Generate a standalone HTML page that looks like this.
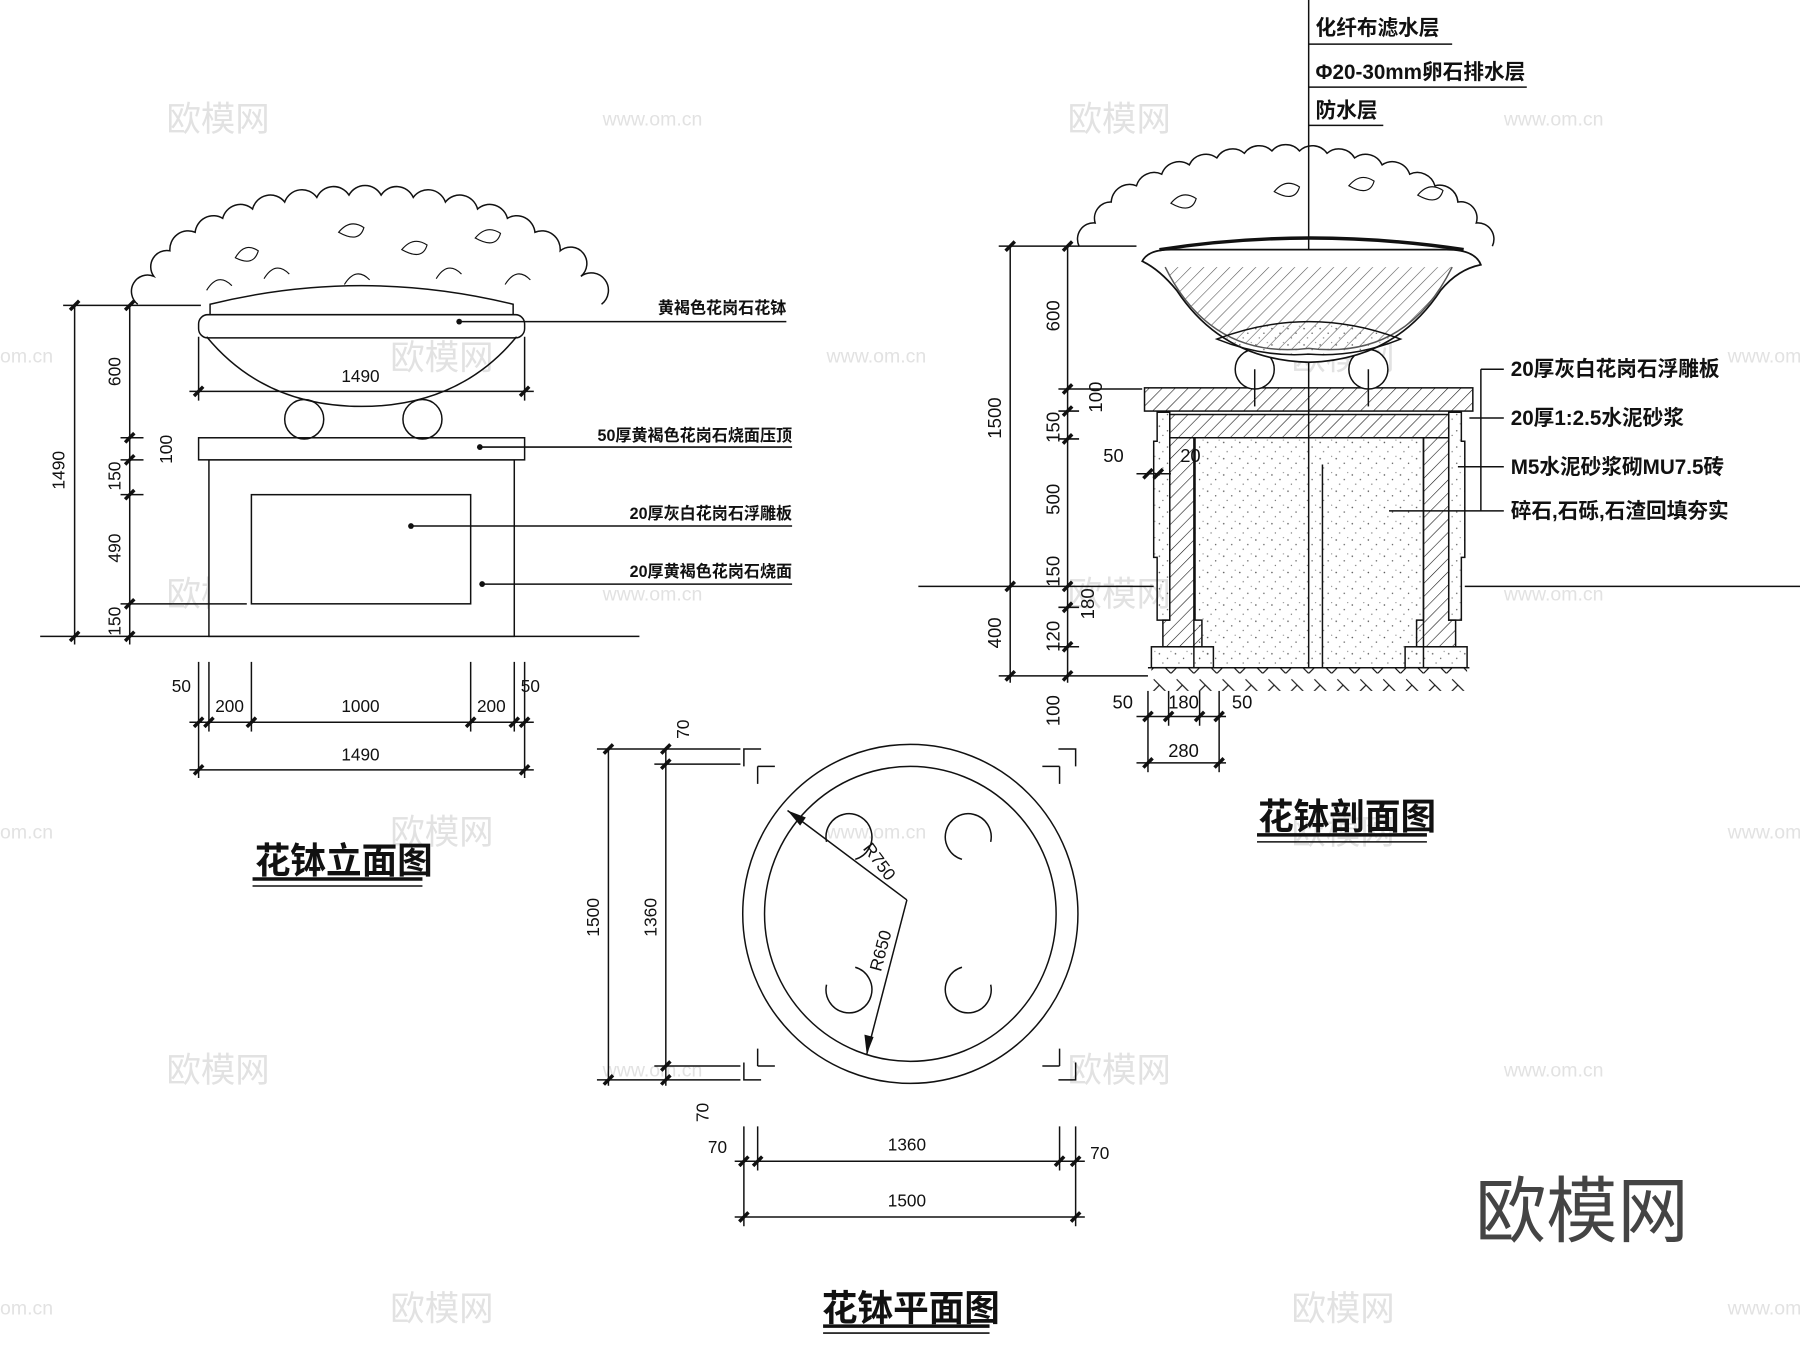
<!DOCTYPE html>
<html><head><meta charset="utf-8">
<style>
html,body{margin:0;padding:0;background:#fff;}
svg{display:block;}
text{font-family:"Liberation Sans","Noto Sans CJK SC",sans-serif;fill:#111;}
.cn{font-family:"Liberation Sans","Noto Sans CJK SC",sans-serif;font-weight:bold;}
</style></head><body>
<svg width="1800" height="1347" viewBox="0 0 1568 1160" preserveAspectRatio="none" xmlns="http://www.w3.org/2000/svg">
<defs>
<pattern id="hat" width="8" height="8" patternUnits="userSpaceOnUse" patternTransform="rotate(45)"><line x1="0" y1="0" x2="0" y2="8" stroke="#111" stroke-width="1"/></pattern>
<pattern id="dots" width="14" height="14" patternUnits="userSpaceOnUse"><circle cx="2" cy="3" r="0.7" fill="#555"/><circle cx="9" cy="7" r="0.6" fill="#555"/><circle cx="5" cy="11" r="0.6" fill="#777"/><circle cx="12" cy="1" r="0.5" fill="#777"/></pattern>
<pattern id="earth" width="20" height="20" patternUnits="userSpaceOnUse"><path d="M0,20 L10,10 L20,20 M5,5 L10,10" stroke="#111" fill="none" stroke-width="1"/></pattern>
</defs>
<rect width="1568" height="1160" fill="#fff"/>

<g font-size="30">
<text x="145" y="113" style="fill:#e2e2e2">欧模网</text><text x="930" y="113" style="fill:#e2e2e2">欧模网</text>
<text x="340" y="318" style="fill:#e2e2e2">欧模网</text><text x="1125" y="318" style="fill:#e2e2e2">欧模网</text>
<text x="145" y="522" style="fill:#e2e2e2">欧模网</text><text x="930" y="522" style="fill:#e2e2e2">欧模网</text>
<text x="340" y="727" style="fill:#e2e2e2">欧模网</text><text x="1125" y="727" style="fill:#e2e2e2">欧模网</text>
<text x="145" y="932" style="fill:#e2e2e2">欧模网</text><text x="930" y="932" style="fill:#e2e2e2">欧模网</text>
<text x="340" y="1137" style="fill:#e2e2e2">欧模网</text><text x="1125" y="1137" style="fill:#e2e2e2">欧模网</text>
</g>
<g font-size="17">
<text x="525" y="108" style="fill:#e2e2e2">www.om.cn</text><text x="1310" y="108" style="fill:#e2e2e2">www.om.cn</text>
<text x="720" y="312" style="fill:#e2e2e2">www.om.cn</text><text x="0" y="312" style="fill:#e2e2e2">om.cn</text><text x="1505" y="312" style="fill:#e2e2e2">www.om</text>
<text x="525" y="517" style="fill:#e2e2e2">www.om.cn</text><text x="1310" y="517" style="fill:#e2e2e2">www.om.cn</text>
<text x="720" y="722" style="fill:#e2e2e2">www.om.cn</text><text x="0" y="722" style="fill:#e2e2e2">om.cn</text><text x="1505" y="722" style="fill:#e2e2e2">www.om</text>
<text x="525" y="927" style="fill:#e2e2e2">www.om.cn</text><text x="1310" y="927" style="fill:#e2e2e2">www.om.cn</text>
<text x="0" y="1132" style="fill:#e2e2e2">om.cn</text><text x="1505" y="1132" style="fill:#e2e2e2">www.om</text>
</g>
<text x="1285" y="1065" font-size="62" style="fill:#444">欧模网</text>

<g stroke="#111" fill="none" stroke-width="1.3">
<line x1="35" y1="548" x2="557" y2="548"/>
<rect x="182" y="396" width="266" height="152" fill="#fff"/>
<rect x="173" y="377" width="284" height="19" fill="#fff"/>
<rect x="219" y="426" width="191" height="94"/>
<circle cx="265" cy="361" r="17"/><circle cx="368" cy="361" r="17"/>
<path d="M180,290 Q230,350 315,350 Q400,350 450,290"/>
<rect x="173" y="271" width="284" height="20" rx="8"/>
<path d="M183,271 L183,262 Q315,230 447,262 L447,271"/>
<path d="M120,262 a14,14 0 0 1 14,-24 a14,14 0 0 1 14,-22 a16,16 0 0 1 22,-16 a16,16 0 0 1 24,-12 a16,16 0 0 1 26,-8 a16,16 0 0 1 28,-6 a16,16 0 0 1 28,-4 a16,16 0 0 1 28,-2 a16,16 0 0 1 28,0 a16,16 0 0 1 28,2 a16,16 0 0 1 28,4 a16,16 0 0 1 28,6 a16,16 0 0 1 26,8 a16,16 0 0 1 24,12 a16,16 0 0 1 22,16 a14,14 0 0 1 18,22 a14,14 0 0 1 18,24"/>
<g stroke-width="1">
<path d="M205,222 q8,-14 20,-6 q-4,14 -20,6z M295,200 q10,-12 22,-4 q-4,14 -22,4z M350,215 q10,-12 22,-4 q-4,14 -22,4z M414,205 q10,-12 22,-4 q-4,14 -22,4z"/>
<path d="M180,250 q10,-16 22,-4 M230,240 q10,-16 22,-4 M300,245 q10,-16 22,-4 M380,240 q10,-16 22,-4 M440,245 q10,-16 22,-4"/>
</g>
<line x1="65" y1="263" x2="65" y2="555"/><line x1="113" y1="263" x2="113" y2="555"/>
<line x1="55" y1="263" x2="175" y2="263"/>
<line x1="105" y1="377" x2="125" y2="377"/><line x1="105" y1="396" x2="125" y2="396"/>
<line x1="105" y1="426" x2="125" y2="426"/><line x1="105" y1="520" x2="215" y2="520"/>
<line x1="165" y1="622" x2="465" y2="622"/><line x1="165" y1="663" x2="465" y2="663"/>
<line x1="173" y1="570" x2="173" y2="670"/><line x1="182" y1="570" x2="182" y2="630"/>
<line x1="219" y1="570" x2="219" y2="630"/><line x1="410" y1="570" x2="410" y2="630"/>
<line x1="448" y1="570" x2="448" y2="630"/><line x1="457" y1="570" x2="457" y2="670"/>
<line x1="165" y1="337" x2="465" y2="337"/><line x1="173" y1="290" x2="173" y2="345"/><line x1="457" y1="290" x2="457" y2="345"/>
<line x1="400" y1="277" x2="685" y2="277"/><line x1="418" y1="385" x2="690" y2="385"/>
<line x1="358" y1="453" x2="690" y2="453"/><line x1="420" y1="503" x2="690" y2="503"/>
<line x1="220" y1="757" x2="368" y2="757" stroke-width="3"/><line x1="220" y1="763" x2="368" y2="763"/>
</g>
<g fill="#111">
<circle cx="400" cy="277" r="2.5"/><circle cx="418" cy="385" r="2.5"/><circle cx="358" cy="453" r="2.5"/><circle cx="420" cy="503" r="2.5"/>
</g>
<g stroke="#111" stroke-width="3">
<path d="M61,267 l8,-8 M109,267 l8,-8 M61,552 l8,-8 M109,552 l8,-8 M109,381 l8,-8 M109,400 l8,-8 M109,430 l8,-8 M109,524 l8,-8"/>
<path d="M169,626 l8,-8 M178,626 l8,-8 M215,626 l8,-8 M406,626 l8,-8 M444,626 l8,-8 M453,626 l8,-8 M169,667 l8,-8 M453,667 l8,-8 M169,341 l8,-8 M453,341 l8,-8"/>
</g>
<g font-size="15">
<text transform="translate(56,405) rotate(-90)" text-anchor="middle">1490</text>
<text transform="translate(105,320) rotate(-90)" text-anchor="middle">600</text>
<text transform="translate(150,387) rotate(-90)" text-anchor="middle">100</text>
<text transform="translate(105,410) rotate(-90)" text-anchor="middle">150</text>
<text transform="translate(105,472) rotate(-90)" text-anchor="middle">490</text>
<text transform="translate(105,535) rotate(-90)" text-anchor="middle">150</text>
<text x="158" y="596" text-anchor="middle">50</text><text x="200" y="613" text-anchor="middle">200</text>
<text x="314" y="613" text-anchor="middle">1000</text><text x="428" y="613" text-anchor="middle">200</text>
<text x="462" y="596" text-anchor="middle">50</text><text x="314" y="655" text-anchor="middle">1490</text>
<text x="314" y="329" text-anchor="middle">1490</text>
</g>
<g font-size="14">
<text x="685" y="270" text-anchor="end" class="cn">黄褐色花岗石花钵</text>
<text x="690" y="380" text-anchor="end" class="cn">50厚黄褐色花岗石烧面压顶</text>
<text x="690" y="447" text-anchor="end" class="cn">20厚灰白花岗石浮雕板</text>
<text x="690" y="497" text-anchor="end" class="cn">20厚黄褐色花岗石烧面</text>
</g>
<text x="222" y="752" font-size="31" class="cn">花钵立面图</text>

<g stroke="#111" fill="none" stroke-width="1.3">
<path d="M648,660 V645 H663 M922,645 H937 V660 M937,915 V930 H922 M663,930 H648 V915"/>
<path d="M660,660 H675 M660,660 V675 M923,660 H908 M923,660 V675 M660,918 H675 M660,918 V903 M923,918 H908 M923,918 V903"/>
<circle cx="793" cy="787" r="146"/><circle cx="793" cy="787" r="127"/>
<path d="M745,740 a20,20 0 1 0 -25,-15 M838,740 a20,20 0 1 1 25,-15 M745,833 a20,20 0 1 1 -25,15 M838,833 a20,20 0 1 0 25,15" />
<line x1="686" y1="698" x2="790" y2="775"/><line x1="790" y1="775" x2="755" y2="908"/>
<line x1="530" y1="645" x2="530" y2="935"/><line x1="580" y1="645" x2="580" y2="935"/>
<line x1="520" y1="645" x2="645" y2="645"/><line x1="570" y1="658" x2="645" y2="658"/>
<line x1="570" y1="918" x2="645" y2="918"/><line x1="520" y1="930" x2="645" y2="930"/>
<line x1="640" y1="1000" x2="945" y2="1000"/><line x1="640" y1="1048" x2="945" y2="1048"/>
<line x1="648" y1="970" x2="648" y2="1056"/><line x1="660" y1="970" x2="660" y2="1008"/>
<line x1="923" y1="970" x2="923" y2="1008"/><line x1="937" y1="970" x2="937" y2="1056"/>
<line x1="717" y1="1142" x2="862" y2="1142" stroke-width="3"/><line x1="717" y1="1148" x2="862" y2="1148"/>
</g>
<g fill="#111"><path d="M686,698 l16,6 l-5,7z"/><path d="M755,908 l-2,-17 l8,2z"/></g>
<g stroke="#111" stroke-width="3">
<path d="M526,649 l8,-8 M576,649 l8,-8 M576,662 l8,-8 M576,922 l8,-8 M526,934 l8,-8 M576,934 l8,-8"/>
<path d="M644,1004 l8,-8 M656,1004 l8,-8 M919,1004 l8,-8 M933,1004 l8,-8 M644,1052 l8,-8 M933,1052 l8,-8"/>
</g>
<g font-size="15">
<text transform="translate(522,790) rotate(-90)" text-anchor="middle">1500</text>
<text transform="translate(572,790) rotate(-90)" text-anchor="middle">1360</text>
<text transform="translate(600,628) rotate(-90)" text-anchor="middle">70</text>
<text transform="translate(617,958) rotate(-90)" text-anchor="middle">70</text>
<text x="625" y="993" text-anchor="middle">70</text><text x="790" y="991" text-anchor="middle">1360</text>
<text x="958" y="998" text-anchor="middle">70</text><text x="790" y="1039" text-anchor="middle">1500</text>
<text transform="translate(762,745) rotate(53)" text-anchor="middle">R750</text>
<text transform="translate(772,820) rotate(-75)" text-anchor="middle">R650</text>
</g>
<text x="716" y="1137" font-size="31" class="cn">花钵平面图</text>

<g stroke="#111" stroke-width="1.3">
<rect x="1003" y="575" width="275" height="20" fill="url(#earth)" stroke="none"/>
<path d="M1040,377 H1240 V575 H1040z" fill="url(#dots)"/>
<rect x="997" y="334" width="286" height="20" fill="url(#hat)"/>
<path d="M1019,357 H1262 V377 H1019z" fill="url(#hat)"/>
<path d="M1019,377 H1041 V505 H1041 V534 H1047 V557 H1013 V534 H1019z" fill="url(#hat)"/>
<path d="M1240,377 H1262 V534 H1268 V557 H1234 V534 H1240z" fill="url(#hat)"/>
<path d="M1008,355 H1019 V534 H1008 V480 H1005 V380 H1008z" fill="url(#dots)"/>
<path d="M1262,355 H1273 V380 H1276 V480 H1273 V534 H1262z" fill="url(#dots)"/>
<rect x="1003" y="557" width="54" height="18" fill="url(#dots)"/>
<rect x="1224" y="557" width="54" height="18" fill="url(#dots)"/>
<line x1="800" y1="505" x2="1005" y2="505"/><line x1="1276" y1="505" x2="1568" y2="505"/>
<line x1="1000" y1="575" x2="1280" y2="575"/>
</g>
<g stroke="#111" fill="none" stroke-width="1.3">
<line x1="1140" y1="0" x2="1140" y2="575"/><line x1="1152" y1="400" x2="1152" y2="575"/>
<circle cx="1093" cy="318" r="17" fill="#fff"/><circle cx="1192" cy="318" r="17" fill="#fff"/>
<line x1="1093" y1="318" x2="1093" y2="350"/><line x1="1192" y1="318" x2="1192" y2="350"/>
<path d="M995,225 Q1000,215 1020,215 H1260 Q1285,215 1290,228 Q1270,232 1255,250 Q1215,310 1140,312 Q1065,310 1025,250 Q1010,232 995,225z" fill="#fff" stroke-width="1.5"/>
<path d="M1015,230 Q1055,310 1140,300 Q1225,310 1265,230" fill="url(#hat)" opacity="0.7"/>
<path d="M1060,292 Q1140,262 1220,292 Q1180,308 1140,305 Q1100,308 1060,292z" fill="url(#dots)"/>
<path d="M1010,215 Q1140,195 1275,215" stroke-width="3"/>
<path d="M940,212 a14,14 0 0 1 14,-20 a14,14 0 0 1 14,-18 a16,16 0 0 1 22,-14 a16,16 0 0 1 22,-10 a16,16 0 0 1 24,-8 a16,16 0 0 1 24,-6 a16,16 0 0 1 24,-4 a16,16 0 0 1 24,-2 a16,16 0 0 1 24,0 a16,16 0 0 1 24,2 a16,16 0 0 1 24,4 a16,16 0 0 1 24,6 a16,16 0 0 1 24,8 a16,16 0 0 1 22,10 a16,16 0 0 1 20,14 a14,14 0 0 1 16,18 a14,14 0 0 1 14,20" fill="none"/>
<path d="M1020,175 q10,-12 22,-4 q-4,14 -22,4z M1110,165 q10,-12 22,-4 q-4,14 -22,4z M1175,160 q10,-12 22,-4 q-4,14 -22,4z M1235,168 q10,-12 22,-4 q-4,14 -22,4z" stroke-width="1"/>
<line x1="1140" y1="38" x2="1265" y2="38"/><line x1="1140" y1="75" x2="1330" y2="75"/><line x1="1140" y1="108" x2="1205" y2="108"/>
<line x1="1290" y1="318" x2="1290" y2="440"/>
<line x1="1290" y1="318" x2="1310" y2="318"/><line x1="1280" y1="360" x2="1310" y2="360"/>
<line x1="1270" y1="402" x2="1310" y2="402"/><line x1="1210" y1="440" x2="1310" y2="440"/>
<line x1="880" y1="212" x2="880" y2="588"/><line x1="930" y1="212" x2="930" y2="588"/>
<line x1="870" y1="212" x2="990" y2="212"/>
<line x1="922" y1="335" x2="995" y2="335"/><line x1="922" y1="354" x2="940" y2="354"/>
<line x1="922" y1="378" x2="940" y2="378"/><line x1="922" y1="523" x2="940" y2="523"/>
<line x1="922" y1="557" x2="940" y2="557"/><line x1="870" y1="582" x2="1000" y2="582"/>
<line x1="990" y1="408" x2="1020" y2="408"/>
<line x1="990" y1="617" x2="1068" y2="617"/><line x1="990" y1="657" x2="1068" y2="657"/>
<line x1="1000" y1="595" x2="1000" y2="665"/><line x1="1018" y1="595" x2="1018" y2="625"/>
<line x1="1045" y1="595" x2="1045" y2="625"/><line x1="1062" y1="595" x2="1062" y2="665"/>
<line x1="1095" y1="719" x2="1243" y2="719" stroke-width="3"/><line x1="1095" y1="725" x2="1243" y2="725"/>
</g>
<g stroke="#111" stroke-width="3">
<path d="M876,216 l8,-8 M926,216 l8,-8 M926,339 l8,-8 M926,358 l8,-8 M926,382 l8,-8 M876,509 l8,-8 M926,509 l8,-8 M926,527 l8,-8 M926,561 l8,-8 M876,586 l8,-8 M926,586 l8,-8 M996,412 l8,-8 M1005,412 l8,-8"/>
<path d="M996,621 l8,-8 M1014,621 l8,-8 M1041,621 l8,-8 M1058,621 l8,-8 M996,661 l8,-8 M1058,661 l8,-8"/>
</g>
<g font-size="16">
<text transform="translate(872,360) rotate(-90)" text-anchor="middle">1500</text>
<text transform="translate(872,545) rotate(-90)" text-anchor="middle">400</text>
<text transform="translate(923,272) rotate(-90)" text-anchor="middle">600</text>
<text transform="translate(960,342) rotate(-90)" text-anchor="middle">100</text>
<text transform="translate(923,368) rotate(-90)" text-anchor="middle">150</text>
<text transform="translate(923,430) rotate(-90)" text-anchor="middle">500</text>
<text transform="translate(923,492) rotate(-90)" text-anchor="middle">150</text>
<text transform="translate(953,520) rotate(-90)" text-anchor="middle">180</text>
<text transform="translate(923,548) rotate(-90)" text-anchor="middle">120</text>
<text transform="translate(923,612) rotate(-90)" text-anchor="middle">100</text>
<text x="970" y="398" text-anchor="middle">50</text><text x="1037" y="398" text-anchor="middle">20</text>
<text x="978" y="610" text-anchor="middle">50</text><text x="1031" y="610" text-anchor="middle">180</text>
<text x="1082" y="610" text-anchor="middle">50</text><text x="1031" y="652" text-anchor="middle">280</text>
</g>
<g font-size="18">
<text x="1146" y="30" class="cn">化纤布滤水层</text>
<text x="1146" y="68" class="cn">Φ20-30mm卵石排水层</text>
<text x="1146" y="101" class="cn">防水层</text>
<text x="1316" y="324" class="cn">20厚灰白花岗石浮雕板</text>
<text x="1316" y="366" class="cn">20厚1:2.5水泥砂浆</text>
<text x="1316" y="408" class="cn">M5水泥砂浆砌MU7.5砖</text>
<text x="1316" y="446" class="cn">碎石,石砾,石渣回填夯实</text>
</g>
<text x="1096" y="714" font-size="31" class="cn">花钵剖面图</text>
</svg>
</body></html>
